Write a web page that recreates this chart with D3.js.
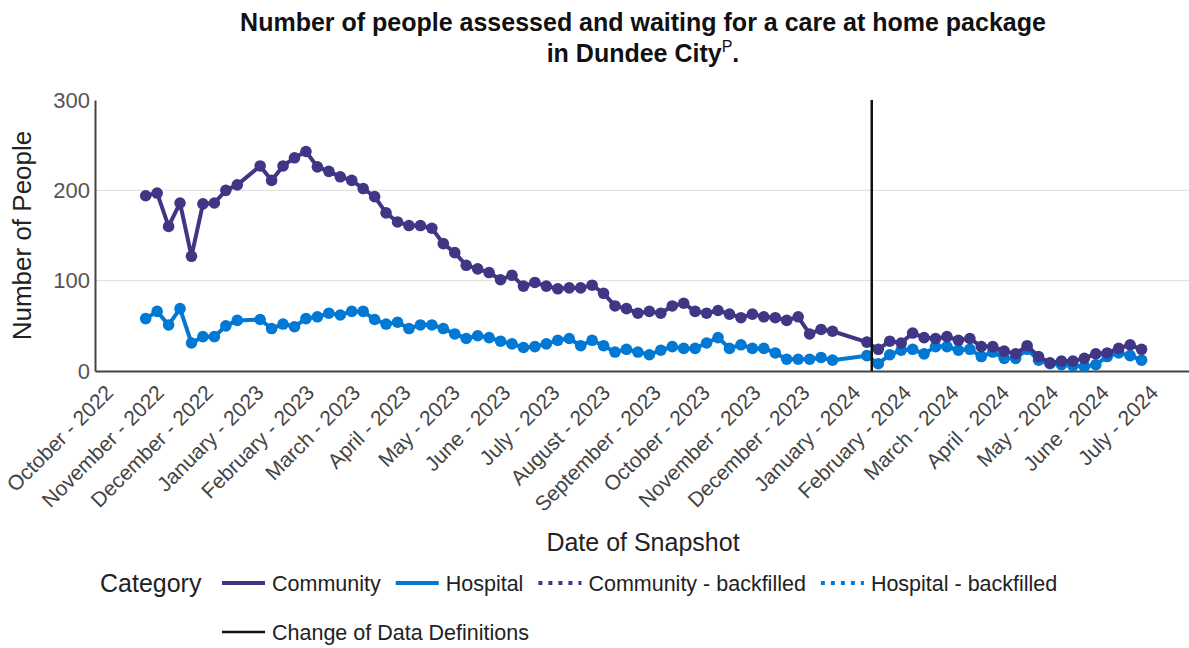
<!DOCTYPE html>
<html>
<head>
<meta charset="utf-8">
<script src="https://cdn.jsdelivr.net/npm/d3@7"></script>
<style>
  body { margin: 0; background: #fff; }
  text { font-family: "Liberation Sans", Arial, sans-serif; }
</style>
</head>
<body>
<div id="chart"></div>
<script>
// weekly snapshot dates (no snapshot over the Christmas weeks)
var snapshotDates = [
  "2022-10-21","2022-10-28","2022-11-04","2022-11-11","2022-11-18","2022-11-25","2022-12-02","2022-12-09","2022-12-16",
  "2022-12-30","2023-01-06","2023-01-13","2023-01-20","2023-01-27","2023-02-03","2023-02-10","2023-02-17","2023-02-24",
  "2023-03-03","2023-03-10","2023-03-17","2023-03-24","2023-03-31","2023-04-07","2023-04-14","2023-04-21","2023-04-28",
  "2023-05-05","2023-05-12","2023-05-19","2023-05-26","2023-06-02","2023-06-09","2023-06-16","2023-06-23","2023-06-30",
  "2023-07-07","2023-07-14","2023-07-21","2023-07-28","2023-08-04","2023-08-11","2023-08-18","2023-08-25","2023-09-01",
  "2023-09-08","2023-09-15","2023-09-22","2023-09-29","2023-10-06","2023-10-13","2023-10-20","2023-10-27","2023-11-03",
  "2023-11-10","2023-11-17","2023-11-24","2023-12-01","2023-12-08","2023-12-15",
  "2024-01-05","2024-01-12","2024-01-19","2024-01-26","2024-02-02","2024-02-09","2024-02-16","2024-02-23","2024-03-01",
  "2024-03-08","2024-03-15","2024-03-22","2024-03-29","2024-04-05","2024-04-12","2024-04-19","2024-04-26","2024-05-03",
  "2024-05-10","2024-05-17","2024-05-24","2024-05-31","2024-06-07","2024-06-14","2024-06-21"
];

// number of people waiting, by category
var community = [
  194,197,160,186,127,185,186,200,206,
  227,211,227,236,243,226,221,215,211,202,193,175,165,161,161,158,141,131,117,113,
  109,101,106,94,98,94,91,92,92,95,86,72,69,64,66,64,72,75,66,64,67,63,59,63,60,59,56,60,41,46,44,
  32,24,33,31,42,37,36,38,34,36,27,27,22,19,28,16,9,11,11,14,19,20,25,29,24
];
var hospital = [
  58,66,51,69,31,38,38,50,56,
  57,47,52,49,58,60,64,62,66,66,57,52,54,47,51,51,47,41,36,39,
  37,33,30,26,27,30,34,36,28,34,28,21,24,21,18,23,27,25,25,31,37,25,29,25,25,20,13,13,13,15,12,
  17,8,18,23,24,19,27,27,23,24,16,21,14,14,24,12,8,7,6,5,7,16,20,17,12
];

var changeDate = "2024-01-08";
var yTicks = [0, 100, 200, 300];
var gridTicks = [100, 200];

var legendNames = ["Community", "Hospital", "Community - backfilled", "Hospital - backfilled"];
var legendColors = ["#3F3685", "#0078D4", "#3F3685", "#0078D4"];
var legendDash = [null, null, "4,6", "4,6"];

var width = 1189;
var height = 648;
var margin = {top: 100, right: 0, bottom: 277, left: 95};

var parse = d3.timeParse("%Y-%m-%d");

var svg = d3.select("#chart")
  .append("svg")
  .attr("width", width)
  .attr("height", height);

svg.append("rect").attr("width", width).attr("height", height).attr("fill", "#fff");

var x = d3.scaleTime()
  .domain([parse("2022-09-20"), parse("2024-07-20")])
  .range([margin.left, width - margin.right]);

var y = d3.scaleLinear()
  .domain([0, 300])
  .range([height - margin.bottom, margin.top]);

// gridlines
svg.append("g")
  .selectAll("line")
  .data(gridTicks)
  .enter()
  .append("line")
  .attr("x1", margin.left)
  .attr("x2", width - margin.right)
  .attr("y1", d => y(d))
  .attr("y2", d => y(d))
  .attr("stroke", "#dcdcdc")
  .attr("stroke-width", 1);

// y axis
var yAxis = svg.append("g")
  .attr("transform", "translate(" + margin.left + ",0)")
  .call(d3.axisLeft(y).tickValues(yTicks).tickSize(0).tickSizeOuter(0).tickPadding(5));
yAxis.select(".domain").attr("stroke", "#444").attr("stroke-width", 2);
yAxis.selectAll("text").style("font-size", "22px").attr("fill", "#555");

// x axis
var xAxis = svg.append("g")
  .attr("transform", "translate(0," + (height - margin.bottom) + ")")
  .call(d3.axisBottom(x)
    .ticks(d3.timeMonth.every(1))
    .tickFormat(d3.timeFormat("%B - %Y"))
    .tickSize(0)
    .tickSizeOuter(0));
xAxis.select(".domain").attr("stroke", "#444").attr("stroke-width", 2);
xAxis.selectAll("text")
  .style("font-size", "21px")
  .attr("fill", "#444")
  .attr("x", 0)
  .attr("y", 0)
  .attr("dy", 0)
  .attr("text-anchor", "end")
  .attr("transform", "translate(1,23) rotate(-45)");

// series
var series = [
  {name: "Hospital", values: hospital, color: legendColors[1]},
  {name: "Community", values: community, color: legendColors[0]}
];

var line = d3.line()
  .x((d, i) => x(parse(snapshotDates[i])))
  .y(d => y(d));

series.forEach(s => {
  svg.append("path")
    .datum(s.values)
    .attr("d", line)
    .attr("fill", "none")
    .attr("stroke", s.color)
    .attr("stroke-width", 4)
    .attr("stroke-linejoin", "round");

  svg.append("g")
    .selectAll("circle")
    .data(s.values)
    .enter()
    .append("circle")
    .attr("cx", (d, i) => x(parse(snapshotDates[i])))
    .attr("cy", d => y(d))
    .attr("r", 5.8)
    .attr("fill", s.color);
});

// change of data definitions
svg.append("line")
  .attr("x1", x(parse(changeDate)))
  .attr("x2", x(parse(changeDate)))
  .attr("y1", y(300))
  .attr("y2", y(0))
  .attr("stroke", "#111")
  .attr("stroke-width", 2.5);

// titles
var title = svg.append("text")
  .attr("text-anchor", "middle")
  .style("font-size", "25px")
  .style("font-weight", "bold")
  .attr("fill", "#111");
title.append("tspan")
  .attr("x", 643).attr("y", 31)
  .text("Number of people assessed and waiting for a care at home package");
var line2 = title.append("tspan").attr("x", 643).attr("y", 62);
line2.append("tspan").text("in Dundee City");
line2.append("tspan").attr("dy", -10).style("font-size", "16px").style("font-weight", "normal").text("P");
line2.append("tspan").attr("dy", 10).text(".");

svg.append("text")
  .attr("transform", "translate(31," + ((y(0) + y(300)) / 2) + ") rotate(-90)")
  .attr("text-anchor", "middle")
  .style("font-size", "26px")
  .attr("fill", "#222")
  .text("Number of People");

svg.append("text")
  .attr("x", 643)
  .attr("y", 551)
  .attr("text-anchor", "middle")
  .style("font-size", "25px")
  .attr("fill", "#222")
  .text("Date of Snapshot");

// legend
var legend = svg.append("g");
legend.append("text")
  .attr("x", 100).attr("y", 592)
  .style("font-size", "25px")
  .attr("fill", "#222")
  .text("Category");

var lx = 222;
legendNames.forEach((name, i) => {
  legend.append("line")
    .attr("x1", lx).attr("x2", lx + 43)
    .attr("y1", 583).attr("y2", 583)
    .attr("stroke", legendColors[i])
    .attr("stroke-width", 4)
    .attr("stroke-dasharray", legendDash[i]);
  var t = legend.append("text")
    .attr("x", lx + 50).attr("y", 591)
    .style("font-size", "21.5px")
    .attr("fill", "#222")
    .text(name);
  lx = lx + 50 + t.node().getComputedTextLength() + 15;
});

legend.append("line")
  .attr("x1", 222).attr("x2", 265)
  .attr("y1", 632).attr("y2", 632)
  .attr("stroke", "#111")
  .attr("stroke-width", 2.5);
legend.append("text")
  .attr("x", 272).attr("y", 640)
  .style("font-size", "21.5px")
  .attr("fill", "#222")
  .text("Change of Data Definitions");
</script>
</body>
</html>
